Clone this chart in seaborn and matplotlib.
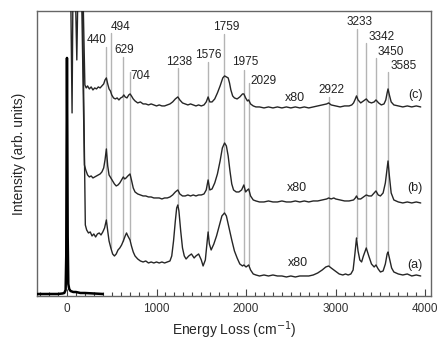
import matplotlib
matplotlib.use("Agg")
import matplotlib.pyplot as plt
import seaborn as sns
import pandas as pd
from matplotlib.ticker import MultipleLocator

# ---------------- data ----------------
elastic_x = [-330, -200, -100, -50, -30, -15, -8, -4, 0, 4, 8, 15, 25, 40, 70, 100, 150, 200, 300, 400]
elastic_y = [2, 2, 2, 2.5, 3, 6, 40, 150, 238, 160, 60, 12, 7, 5, 4, 4, 3, 3, 2.5, 2]

trace_c_x = [90, 110, 125, 175, 200, 215, 230, 250, 270, 290, 310, 330, 350, 370, 390, 410, 425, 440,
             455, 470, 485, 500, 520, 540, 560, 580, 600, 620, 635, 650, 670, 690, 705, 720, 740, 760,
             790, 820, 850, 880, 910, 940, 970, 1000, 1030, 1060, 1090, 1120, 1150, 1180, 1210, 1238,
             1260, 1290, 1320, 1350, 1380, 1410, 1440, 1470, 1500, 1530, 1555, 1576, 1595, 1620, 1650,
             1680, 1710, 1740, 1760, 1780, 1800, 1815, 1830, 1850, 1870, 1900, 1930, 1960, 1975, 1995,
             2015, 2029, 2050, 2080, 2110, 2150, 2200, 2250, 2300, 2350, 2400, 2450, 2500, 2550, 2600,
             2650, 2700, 2750, 2800, 2850, 2900, 2922, 2950, 3000, 3050, 3100, 3150, 3180, 3200, 3220,
             3233, 3250, 3280, 3310, 3342, 3370, 3400, 3430, 3450, 3480, 3510, 3540, 3560, 3575, 3585,
             3600, 3620, 3650, 3700, 3750, 3800, 3850, 3900, 3950]
trace_c_y = [320, 236, 320, 320, 211, 208, 210, 207, 209, 206, 208, 207, 209, 208, 210, 212, 216, 218,
             212, 207, 205, 201, 198, 197, 198, 196, 198, 199, 201, 199, 198, 201, 202, 200, 197, 195,
             193, 194, 192, 192, 191, 192, 191, 190, 191, 190, 190, 191, 192, 194, 197, 199,
             196, 193, 192, 191, 192, 191, 190, 191, 190, 191, 194, 199, 194, 194, 197,
             203, 210, 218, 220, 219, 218, 213, 206, 200, 198, 197, 199, 202, 202, 198,
             195, 196, 192, 190, 189, 189, 188, 189, 188, 189, 188, 189, 188, 189, 188,
             189, 188, 189, 190, 191, 192, 193, 191, 190, 189, 190, 190, 191, 193, 197,
             200, 196, 193, 195, 197, 194, 193, 194, 196, 193, 191, 192, 196, 203, 207,
             201, 194, 191, 190, 189, 190, 189, 190, 189]

trace_b_x = [20, 40, 57, 68, 160, 195, 210, 230, 250, 270, 290, 310, 330, 350, 370, 390, 410, 425, 440,
             455, 470, 490, 510, 530, 550, 570, 590, 610, 629, 645, 660, 680, 704, 720, 740, 760, 790,
             820, 850, 880, 910, 940, 970, 1000, 1030, 1060, 1090, 1120, 1150, 1180, 1210, 1238, 1260,
             1290, 1320, 1350, 1380, 1410, 1440, 1470, 1500, 1530, 1555, 1576, 1595, 1620, 1650, 1680,
             1710, 1735, 1760, 1780, 1800, 1820, 1840, 1860, 1890, 1920, 1950, 1975, 1995, 2015, 2029,
             2050, 2080, 2110, 2150, 2200, 2250, 2300, 2350, 2400, 2450, 2500, 2550, 2600, 2650, 2700,
             2750, 2800, 2850, 2900, 2922, 2950, 2980, 3000, 3050, 3100, 3150, 3200, 3220, 3233, 3250,
             3280, 3310, 3342, 3370, 3400, 3430, 3450, 3475, 3500, 3530, 3555, 3575, 3585, 3600, 3620,
             3650, 3700, 3750, 3800, 3850, 3900, 3950]
trace_b_y = [320, 320, 183, 320, 320, 131, 126, 121, 119, 120, 118, 119, 120, 121, 122, 124, 128, 136, 147,
             130, 121, 118, 115, 112, 110, 111, 113, 116, 119, 117, 118, 120, 122, 116, 108, 104, 102,
             101, 100, 100, 99, 99, 98, 98, 98, 97, 98, 98, 99, 101, 104, 106, 102,
             100, 100, 101, 100, 101, 100, 101, 101, 102, 106, 116, 106, 107, 113, 122,
             135, 148, 153, 150, 140, 125, 112, 106, 104, 104, 106, 111, 104, 106, 107,
             100, 96, 95, 94, 94, 95, 94, 94, 95, 94, 94, 95, 94, 95, 94,
             95, 95, 96, 97, 98, 97, 98, 97, 96, 95, 95, 96, 98, 100, 97,
             97, 99, 101, 100, 100, 103, 105, 101, 100, 103, 113, 128, 135, 120, 103,
             96, 94, 93, 94, 93, 94, 93]

trace_a_x = [15, 170, 205, 220, 240, 260, 280, 300, 320, 340, 360, 380, 400, 420, 440, 455, 470, 490,
             510, 530, 550, 570, 590, 610, 629, 650, 665, 680, 704, 720, 740, 760, 790, 820, 850, 880,
             910, 940, 970, 1000, 1030, 1060, 1090, 1120, 1150, 1170, 1190, 1210, 1225, 1238, 1250,
             1270, 1290, 1310, 1330, 1360, 1390, 1420, 1440, 1470, 1500, 1520, 1545, 1560, 1576, 1590,
             1610, 1640, 1670, 1700, 1730, 1759, 1780, 1810, 1840, 1870, 1900, 1930, 1960, 1975, 2000,
             2029, 2050, 2080, 2110, 2150, 2200, 2250, 2300, 2350, 2400, 2450, 2500, 2550, 2600, 2650,
             2700, 2750, 2800, 2850, 2890, 2922, 2950, 2980, 3010, 3040, 3080, 3110, 3140, 3170, 3195,
             3215, 3233, 3250, 3270, 3290, 3310, 3342, 3370, 3400, 3430, 3450, 3475, 3500, 3530, 3555,
             3575, 3585, 3600, 3625, 3650, 3700, 3750, 3800, 3850, 3900, 3950]
trace_a_y = [320, 320, 71, 66, 63, 64, 60, 62, 59, 62, 63, 61, 64, 68, 76, 65, 55, 48,
             42, 40, 42, 46, 48, 51, 55, 60, 63, 60, 56, 50, 44, 40, 37, 35, 34, 35,
             33, 34, 33, 34, 33, 34, 33, 34, 35, 40, 55, 75, 88, 91, 85,
             65, 48, 40, 37, 40, 42, 38, 40, 42, 36, 30, 36, 50, 64, 52,
             46, 52, 60, 70, 80, 83, 80, 68, 56, 45, 38, 32, 30, 31, 29,
             31, 26, 22, 21, 20, 21, 20, 21, 20, 20, 19, 20, 19, 20, 20,
             20, 21, 23, 26, 29, 30, 28, 26, 24, 22, 21, 22, 21, 22, 26,
             42, 58, 45, 36, 34, 40, 48, 40, 32, 29, 31, 27, 24, 25, 32,
             42, 44, 38, 28, 24, 22, 21, 22, 20, 21, 20]

peak_labels = ["440", "494", "629", "704", "1238", "1576", "1759", "1975", "2029",
               "2922", "3233", "3342", "3450", "3585"]
peak_pos = [440, 494, 629, 704, 1238, 1576, 1759, 1975, 2029, 2922, 3233, 3342, 3450, 3585]
line_top = [249, 263, 239, 224, 228, 234, 262, 226, 213, 199, 267, 253, 238, 224]
line_bottom = [76, 48, 55, 56, 91, 64, 83, 31, 31, 30, 58, 48, 31, 44]
label_x = [335, 603, 637, 816, 1251, 1575, 1777, 1989, 2190, 2950, 3263, 3508, 3620, 3765]
label_y = [256, 269, 246, 220, 234, 241, 269, 234, 215, 206, 274, 259, 244, 230]

scale_text = ["x80", "x80", "x80"]
scale_x = [2550, 2570, 2580]
scale_y = [198, 108, 33]
trace_names = ["(c)", "(b)", "(a)"]
name_x = [3890, 3890, 3890]
name_y = [201, 108, 31]

# ---------------- plot ----------------
sns.set_style("white")
plt.rcParams['font.family'] = ['Liberation Sans', 'DejaVu Sans']

fig = plt.figure(figsize=(4.4, 3.41), dpi=100)
ax = fig.add_axes([0.084, 0.132, 0.896, 0.836])

# guide lines
for px, t, b in zip(peak_pos, line_top, line_bottom):
    ax.plot([px, px], [b, t], color="#b4b4b4", lw=1.0, zorder=1)

trace_col = "#262626"
for xs, ys in [(trace_a_x, trace_a_y), (trace_b_x, trace_b_y), (trace_c_x, trace_c_y)]:
    df = pd.DataFrame({"x": xs, "y": ys})
    sns.lineplot(data=df, x="x", y="y", ax=ax, color=trace_col, lw=1.0, sort=False,
                 estimator=None, zorder=3)

dfe = pd.DataFrame({"x": elastic_x, "y": elastic_y})
sns.lineplot(data=dfe, x="x", y="y", ax=ax, color="black", lw=1.8, sort=False,
             estimator=None, zorder=4)

for t, x, y in zip(peak_labels, label_x, label_y):
    ax.text(x, y, t, ha="center", va="center", fontsize=8.5, color="#222222")
for t, x, y in zip(scale_text, scale_x, scale_y):
    ax.text(x, y, t, ha="center", va="center", fontsize=9, color="#222222")
for t, x, y in zip(trace_names, name_x, name_y):
    ax.text(x, y, t, ha="center", va="center", fontsize=9, color="#222222")

ax.set_xlim(-335, 4067)
ax.set_ylim(0, 285)
ax.xaxis.set_major_locator(MultipleLocator(1000))
ax.xaxis.set_minor_locator(MultipleLocator(100))
ax.tick_params(axis="x", which="major", direction="in", length=5, width=0.8,
               color="#444444", labelsize=8.5, pad=5, bottom=True, labelcolor="#333333")
ax.tick_params(axis="x", which="minor", direction="in", length=3, width=0.8,
               color="#444444", bottom=True)
ax.set_yticks([])
for s in ax.spines.values():
    s.set_color("#666666")
    s.set_linewidth(1.0)

ax.set_xlabel("Energy Loss (cm$^{-1}$)", fontsize=10, labelpad=3)
ax.set_ylabel("Intensity (arb. units)", fontsize=10, labelpad=8)

fig.savefig("out.png", dpi=100)
